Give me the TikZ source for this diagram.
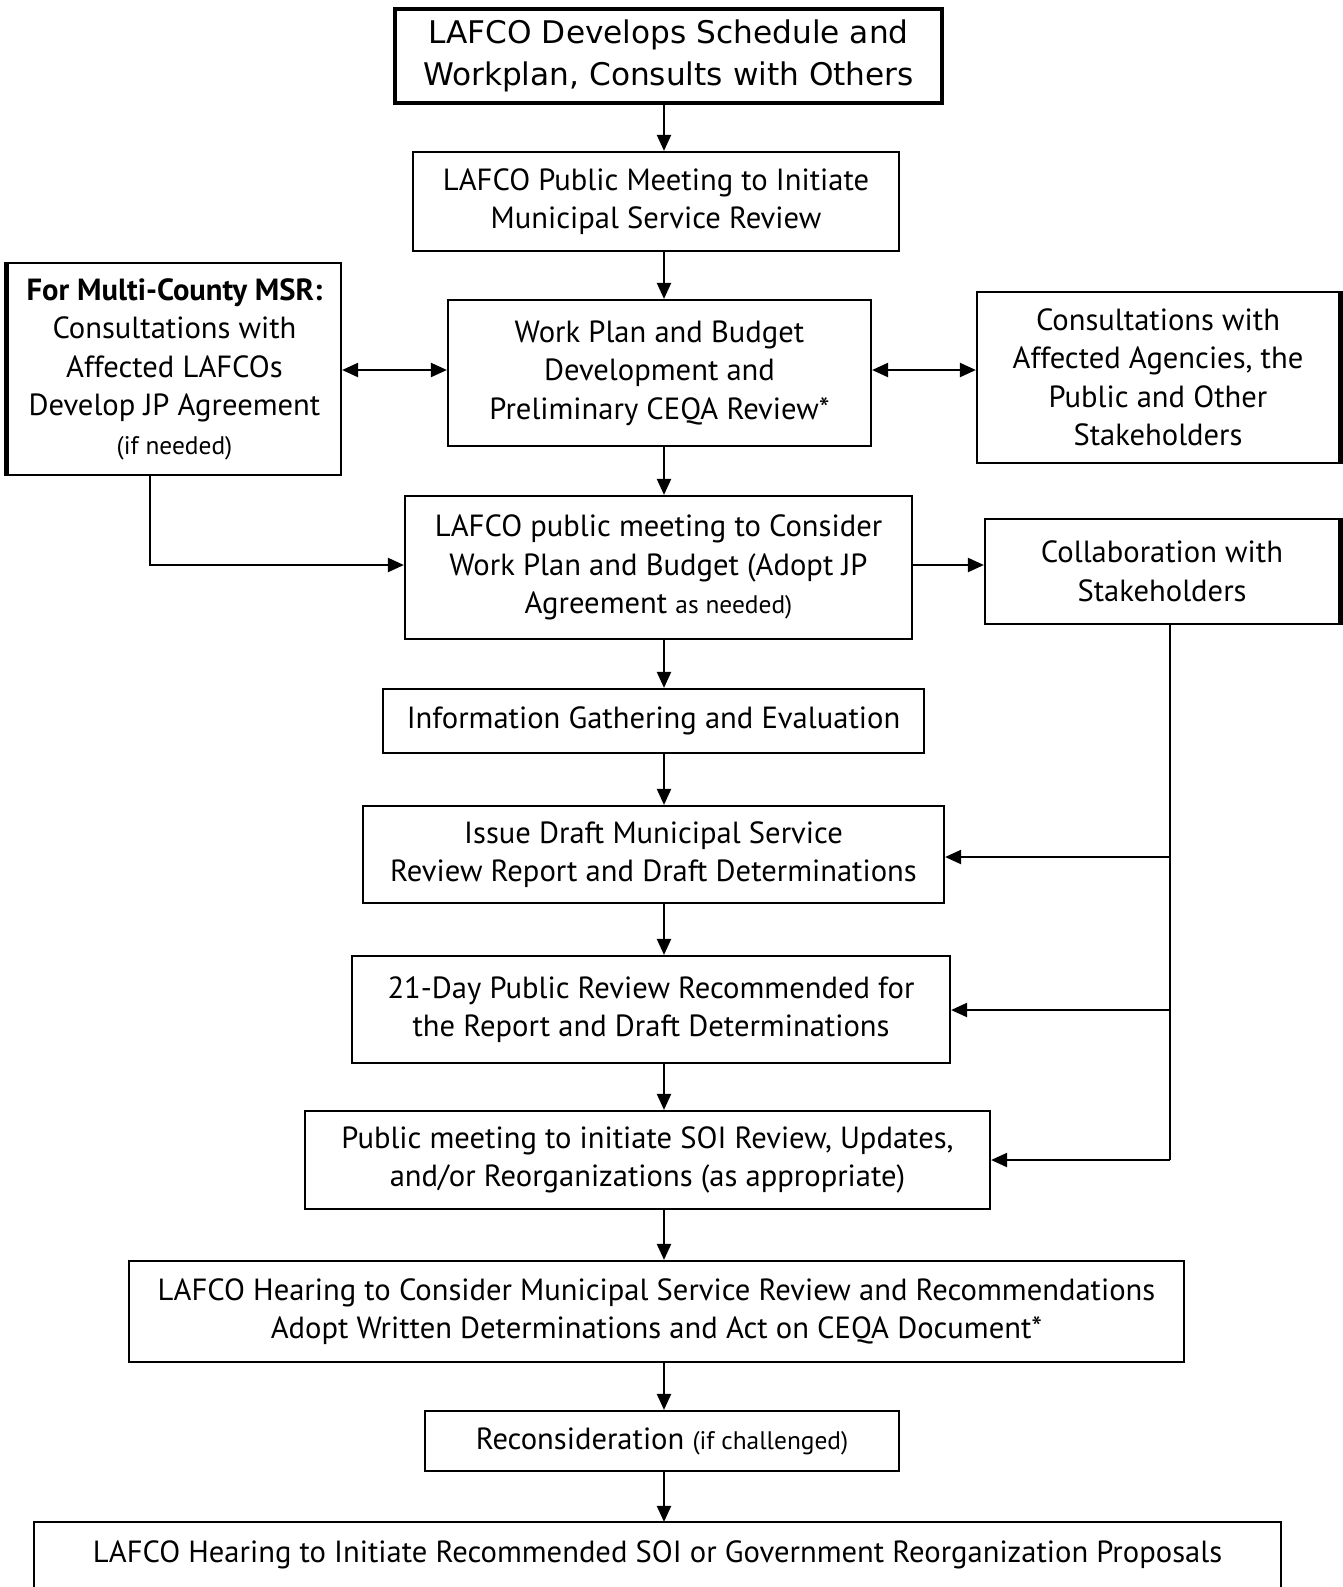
\documentclass[tikz,border=0pt]{standalone}
\usepackage{fontspec}
\setmainfont{PT Sans}
\newfontfamily\topfont{DejaVu Sans}
\usetikzlibrary{arrows.meta}
\newcommand\fs{\fontsize{15.3}{19.25}\selectfont}
\newcommand\smf{\fontsize{12.7}{19.25}\selectfont}
\begin{document}
\begin{tikzpicture}[x=0.5pt,y=-0.5pt,
  box/.style={draw, line width=1.1pt, align=center, inner sep=0pt, font=\fs},
  arr/.style={-{Triangle[length=8pt,width=7pt]}, line width=1.1pt},
  darr/.style={{Triangle[length=8pt,width=7pt]}-{Triangle[length=8pt,width=7pt]}, line width=1.1pt}]
\useasboundingbox (0,0) rectangle (1343,1587);
\fill[white] (0,0) rectangle (1343,1587);
\coordinate (spine) at (664,0);

\node[box, line width=2pt, font=\topfont\fontsize{15.6}{21}\selectfont, minimum width=273.5pt, minimum height=47pt] (b1) at (668.5,56)
  {LAFCO Develops Schedule and\\Workplan, Consults with Others};
\node[box, minimum width=243pt, minimum height=49.5pt] (b2) at (656,201.5)
  {LAFCO Public Meeting to Initiate\\Municipal Service Review};
\node[box, minimum width=166.5pt, minimum height=106pt] (b3) at (174.5,369)
  {{\bfseries For Multi-County MSR:}\\Consultations with\\Affected LAFCOs\\Develop JP Agreement\\{\smf (if needed)}};
\node[box, minimum width=211.5pt, minimum height=73pt] (b4) at (659.5,373)
  {Work Plan and Budget\\Development and\\Preliminary CEQA Review*};
\node[box, minimum width=181pt, minimum height=85.5pt] (b5) at (1158,377.5)
  {Consultations with\\Affected Agencies, the\\Public and Other\\Stakeholders};
\node[box, minimum width=253.5pt, minimum height=71.5pt] (b6) at (658.5,567.5)
  {LAFCO public meeting to Consider\\Work Plan and Budget (Adopt JP\\Agreement {\smf as needed)}};
\node[box, minimum width=177pt, minimum height=52.5pt] (b7) at (1162,571.5)
  {Collaboration with\\Stakeholders};
\node[box, minimum width=270.5pt, minimum height=32pt] (b8) at (653.5,721)
  {Information Gathering and Evaluation};
\node[box, minimum width=290.5pt, minimum height=48.5pt] (b9) at (653.5,854.5)
  {Issue Draft Municipal Service\\Review Report and Draft Determinations};
\node[box, minimum width=299pt, minimum height=53.5pt] (b10) at (651,1009.5)
  {21-Day Public Review Recommended for\\the Report and Draft Determinations};
\node[box, minimum width=342.5pt, minimum height=49pt] (b11) at (647.5,1160)
  {Public meeting to initiate SOI Review, Updates,\\and/or Reorganizations (as appropriate)};
\node[box, minimum width=527.5pt, minimum height=50.5pt] (b12) at (656.5,1311.5)
  {LAFCO Hearing to Consider Municipal Service Review and Recommendations\\Adopt Written Determinations and Act on CEQA Document*};
\node[box, minimum width=237pt, minimum height=30pt] (b13) at (662,1441)
  {Reconsideration {\smf (if challenged)}};
\node[box, draw=none, minimum width=622.5pt, minimum height=32pt] (b14) at (657.5,1555)
  {LAFCO Hearing to Initiate Recommended SOI or Government Reorganization Proposals};
\draw[line width=1.1pt] (b14.south west) -- (b14.north west) -- (b14.north east) -- (b14.south east);

% thick edges
\draw[line width=2.5pt] (b3.north west) -- (b3.south west);
\draw[line width=2.5pt] (b5.north east) -- (b5.south east);
\draw[line width=2.5pt] (b7.north east) -- (b7.south east);

% spine arrows
\draw[arr] (b1.south -| spine) -- (b2.north -| spine);
\draw[arr] (b2.south -| spine) -- (b4.north -| spine);
\draw[arr] (b4.south -| spine) -- (b6.north -| spine);
\draw[arr] (b6.south -| spine) -- (b8.north -| spine);
\draw[arr] (b8.south -| spine) -- (b9.north -| spine);
\draw[arr] (b9.south -| spine) -- (b10.north -| spine);
\draw[arr] (b10.south -| spine) -- (b11.north -| spine);
\draw[arr] (b11.south -| spine) -- (b12.north -| spine);
\draw[arr] (b12.south -| spine) -- (b13.north -| spine);
\draw[arr] (b13.south -| spine) -- (b14.north -| spine);

% side arrows
\coordinate (h1) at (0,370);
\draw[darr] (b3.east |- h1) -- (b4.west |- h1);
\draw[darr] (b4.east |- h1) -- (b5.west |- h1);
\coordinate (h2) at (150,565);
\draw[arr] (b3.south -| h2) -- (h2) -- (b6.west |- h2);
\draw[arr] (b6.east |- h2) -- (b7.west |- h2);

\coordinate (v) at (1170,1160);
\coordinate (j9) at (1170,857);
\coordinate (j10) at (1170,1010);
\draw[line width=1.1pt] (b7.south -| v) -- (v);
\draw[arr] (j9) -- (b9.east |- j9);
\draw[arr] (j10) -- (b10.east |- j10);
\draw[arr] (v) -- (b11.east |- v);
\end{tikzpicture}
\end{document}
